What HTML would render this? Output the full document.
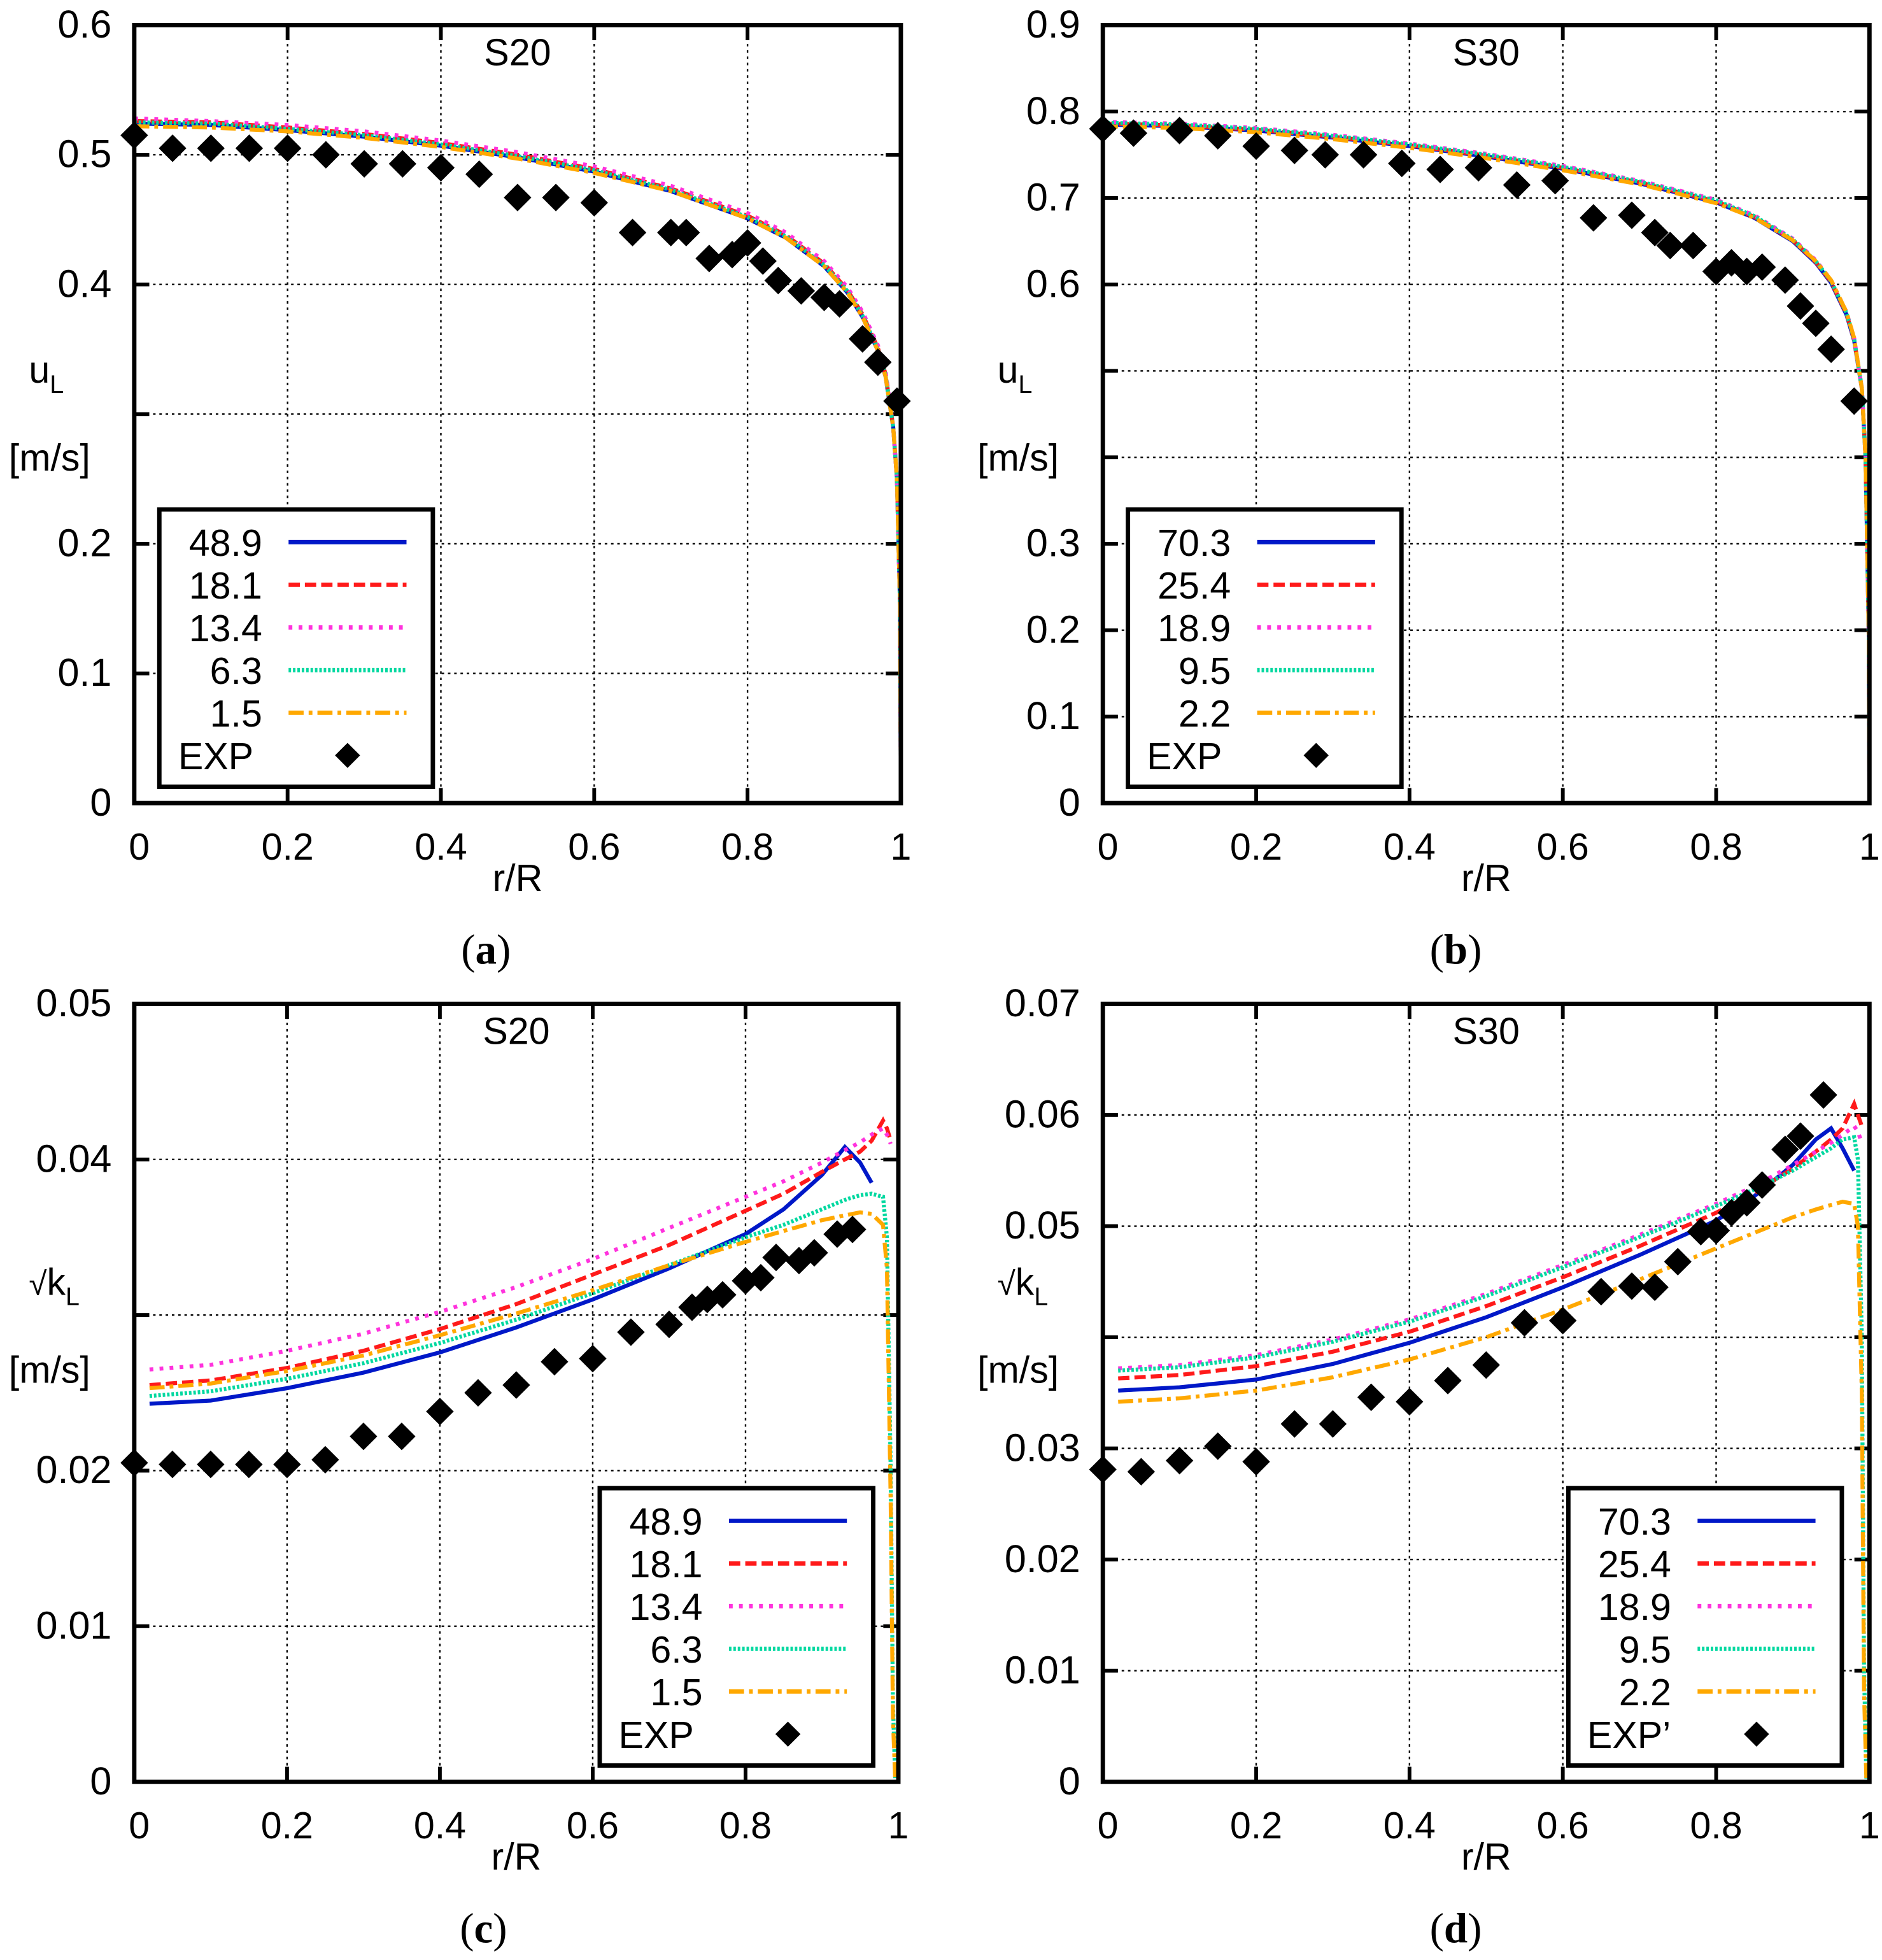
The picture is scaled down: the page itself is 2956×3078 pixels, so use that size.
<!DOCTYPE html>
<html><head><meta charset="utf-8">
<style>
html,body{margin:0;padding:0;background:#fff;}
svg{display:block;}
text{font-family:"Liberation Sans",sans-serif;fill:#000;}
</style></head>
<body>
<svg id="fig" width="2956" height="3078" viewBox="0 0 1500 1562" preserveAspectRatio="none" xmlns="http://www.w3.org/2000/svg"></svg>
<script>
// ---------- data ----------
const rSim = [0,0.1,0.2,0.3,0.4,0.5,0.6,0.7,0.8,0.85,0.9,0.93,0.95,0.97,0.98,0.99,0.995,0.999,1];
const aNames = ["48.9","18.1","13.4","6.3","1.5"];
const a1 = [0.524,0.523,0.519,0.514,0.507,0.498,0.487,0.472,0.451,0.436,0.414,0.394,0.375,0.349,0.329,0.29,0.25,0.15,0];
const a2 = [0.526,0.525,0.521,0.516,0.509,0.500,0.489,0.474,0.453,0.438,0.416,0.396,0.377,0.351,0.331,0.29,0.25,0.15,0];
const a3 = [0.528,0.526,0.523,0.518,0.511,0.502,0.491,0.476,0.455,0.440,0.418,0.398,0.379,0.353,0.333,0.29,0.25,0.15,0];
const a4 = [0.525,0.524,0.520,0.515,0.508,0.499,0.488,0.473,0.452,0.437,0.415,0.395,0.376,0.350,0.330,0.29,0.25,0.15,0];
const a5 = [0.522,0.521,0.518,0.513,0.506,0.497,0.486,0.472,0.451,0.436,0.414,0.394,0.375,0.349,0.329,0.29,0.25,0.15,0];
const aExpR = [0,0.05,0.1,0.15,0.2,0.25,0.3,0.35,0.4,0.45,0.5,0.55,0.6,0.65,0.7,0.72,0.75,0.78,0.8,0.82,0.84,0.87,0.9,0.92,0.95,0.97,0.995];
const aExpV = [0.515,0.505,0.505,0.505,0.505,0.5,0.493,0.493,0.49,0.485,0.467,0.467,0.463,0.44,0.44,0.44,0.42,0.423,0.432,0.418,0.403,0.395,0.39,0.385,0.358,0.34,0.31];

const bNames = ["70.3","25.4","18.9","9.5","2.2"];
const b1 = [0.785,0.783,0.778,0.770,0.760,0.748,0.734,0.717,0.695,0.677,0.650,0.625,0.602,0.565,0.535,0.48,0.40,0.2,0];
const b2 = [0.786,0.784,0.779,0.771,0.761,0.749,0.735,0.718,0.696,0.678,0.651,0.626,0.603,0.566,0.536,0.48,0.40,0.2,0];
const b3 = [0.788,0.786,0.781,0.773,0.763,0.751,0.737,0.720,0.698,0.680,0.653,0.628,0.605,0.568,0.538,0.48,0.40,0.2,0];
const b4 = [0.787,0.785,0.780,0.772,0.762,0.750,0.736,0.719,0.697,0.679,0.652,0.627,0.604,0.567,0.537,0.48,0.40,0.2,0];
const b5 = [0.783,0.781,0.776,0.768,0.758,0.746,0.732,0.716,0.694,0.677,0.651,0.627,0.605,0.568,0.538,0.48,0.40,0.2,0];
const bExpR = [0,0.04,0.1,0.15,0.2,0.25,0.29,0.34,0.39,0.44,0.49,0.54,0.59,0.64,0.69,0.72,0.74,0.77,0.8,0.82,0.84,0.86,0.89,0.91,0.93,0.95,0.98];
const bExpV = [0.78,0.775,0.778,0.772,0.76,0.755,0.75,0.75,0.74,0.733,0.735,0.715,0.72,0.677,0.68,0.66,0.645,0.645,0.615,0.625,0.615,0.62,0.605,0.575,0.555,0.525,0.465];

const rK = [0.02,0.1,0.2,0.3,0.4,0.5,0.6,0.7,0.8,0.85,0.9,0.93,0.95,0.965,0.98,0.985,0.99,0.993,0.996];
const c1 = [0.0243,0.0245,0.0253,0.0263,0.0276,0.0292,0.0310,0.0330,0.0352,0.0368,0.0390,0.0408,0.0398,0.0385,null,null,null,null,null];
const c2 = [0.0255,0.0258,0.0266,0.0277,0.0291,0.0307,0.0326,0.0345,0.0367,0.0378,0.0392,0.0400,0.0405,0.0412,0.0425,0.0420,0.0412,null,null];
const c3 = [0.0265,0.0268,0.0277,0.0288,0.0302,0.0318,0.0336,0.0356,0.0376,0.0386,0.0398,0.0406,0.0411,0.0416,0.0420,0.0416,0.0410,null,null];
const c4 = [0.0248,0.0251,0.0259,0.0269,0.0282,0.0297,0.0314,0.0332,0.0350,0.0358,0.0368,0.0374,0.0377,0.0378,0.0376,0.0350,0.0200,0.005,0];
const c5 = [0.0253,0.0256,0.0264,0.0274,0.0287,0.0301,0.0316,0.0332,0.0347,0.0354,0.0361,0.0364,0.0366,0.0365,0.0358,0.0330,0.0180,0.004,0];
const cExpR = [0,0.05,0.1,0.15,0.2,0.25,0.3,0.35,0.4,0.45,0.5,0.55,0.6,0.65,0.7,0.73,0.75,0.77,0.8,0.82,0.84,0.87,0.89,0.92,0.94];
const cExpV = [0.0205,0.0204,0.0204,0.0204,0.0204,0.0207,0.0222,0.0222,0.0238,0.025,0.0255,0.027,0.0272,0.0289,0.0294,0.0305,0.031,0.0313,0.0322,0.0324,0.0337,0.0335,0.034,0.0352,0.0355];

const d1 = [0.0352,0.0355,0.0362,0.0376,0.0395,0.0418,0.0445,0.0474,0.0505,0.0527,0.0555,0.0578,0.0588,0.0570,0.0550,null,null,null,null];
const d2 = [0.0363,0.0366,0.0374,0.0387,0.0405,0.0428,0.0454,0.0482,0.0512,0.0530,0.0552,0.0567,0.0578,0.0588,0.0610,0.0600,0.0590,null,null];
const d3 = [0.0372,0.0375,0.0384,0.0398,0.0416,0.0439,0.0465,0.0492,0.0520,0.0536,0.0555,0.0567,0.0575,0.0582,0.0590,0.0585,0.0575,null,null];
const d4 = [0.0370,0.0373,0.0382,0.0396,0.0414,0.0437,0.0463,0.0490,0.0518,0.0533,0.0550,0.0562,0.0570,0.0578,0.0580,0.0560,0.0400,0.010,0];
const d5 = [0.0342,0.0345,0.0352,0.0364,0.0380,0.0400,0.0425,0.0452,0.0480,0.0494,0.0508,0.0515,0.0519,0.0522,0.0520,0.0500,0.0350,0.008,0];
const dExpR = [0,0.05,0.1,0.15,0.2,0.25,0.3,0.35,0.4,0.45,0.5,0.55,0.6,0.65,0.69,0.72,0.75,0.78,0.8,0.82,0.84,0.86,0.89,0.91,0.94];
const dExpV = [0.0281,0.0279,0.0289,0.0302,0.0288,0.0322,0.0322,0.0346,0.0342,0.0361,0.0375,0.0413,0.0415,0.0441,0.0446,0.0445,0.0468,0.0495,0.0496,0.0512,0.0521,0.0537,0.0569,0.0581,0.0618];

const xTicks = ["0","0.2","0.4","0.6","0.8","1"];
const styles = [
  {c:"#0018c8",d:""},{c:"#ff1a1a",d:"9,4"},{c:"#ff33dd",d:"3,5"},{c:"#00d8a0",d:"2,1.5"},{c:"#ffa800",d:"12,4,3,4"}
];

// ---------- drawing ----------
const NS="http://www.w3.org/2000/svg";
const svg=document.getElementById('fig');
function mk(tag,attrs,parent){const e=document.createElementNS(NS,tag);for(const k in attrs)e.setAttribute(k,attrs[k]);(parent||svg).appendChild(e);return e;}

function panel(p){
  const g=mk('g',{});
  
  
  const X=v=>p.x0+(p.x1-p.x0)*v;
  const Y=v=>p.y1-(p.y1-p.y0)*(v/p.ymax);
  for(let i=1;i<5;i++){const x=X(i*0.2);const l=mk('line',{x1:x,x2:x,y1:p.y0,y2:p.y1,stroke:'#000','stroke-width':1.2,'stroke-dasharray':'2,3'},g);
    }
  for(let i=1;i<p.nY;i++){const y=Y(i*p.step);const l=mk('line',{x1:p.x0,x2:p.x1,y1:y,y2:y,stroke:'#000','stroke-width':1.2,'stroke-dasharray':'2,3'},g);
    }
  for(let i=0;i<=5;i++){const x=X(i*0.2);
    mk('line',{x1:x,x2:x,y1:p.y1,y2:p.y1-12,stroke:'#000','stroke-width':3},g);
    mk('line',{x1:x,x2:x,y1:p.y0,y2:p.y0+12,stroke:'#000','stroke-width':3},g);
    const t=mk('text',{x:x+(i==0?4:0),y:p.y1+45,'font-size':30,'text-anchor':'middle'},g);t.textContent=xTicks[i];
    }
  for(let i=0;i<=p.nY;i++){const y=Y(i*p.step);
    mk('line',{x1:p.x0,x2:p.x0+12,y1:y,y2:y,stroke:'#000','stroke-width':3},g);
    mk('line',{x1:p.x1,x2:p.x1-12,y1:y,y2:y,stroke:'#000','stroke-width':3},g);
    if(p.skip.includes(i))continue;
    const t=mk('text',{x:p.x0-18,y:y+10,'font-size':31,'text-anchor':'end'},g);t.textContent=i==0?'0':(i*p.step).toFixed(p.dec);
    }
  p.series.forEach((s,k)=>{
    let pts=[];for(let i=0;i<p.simR.length;i++){const v=p.simV[k][i];if(v==null)continue;pts.push(X(p.simR[i]).toFixed(1)+','+Y(v).toFixed(1));}
    const pl=mk('polyline',{points:pts.join(' '),fill:'none',stroke:styles[k].c,'stroke-width':3.2,'stroke-dasharray':styles[k].d},g);
    
  });
  p.expR.forEach((r,i)=>{const cx=X(r),cy=Y(p.expV[i]);
    const d=mk('polygon',{points:`${cx},${cy-11} ${cx+11},${cy} ${cx},${cy+11} ${cx-11},${cy}`,fill:'#000'},g);
    });
  const f=mk('rect',{x:p.x0,y:p.y0,width:p.x1-p.x0,height:p.y1-p.y0,fill:'none',stroke:'#000','stroke-width':3.5},g);
  
  const tt=mk('text',{x:(p.x0+p.x1)/2,y:p.y0+32,'font-size':30,'text-anchor':'middle'},g);tt.textContent=p.title;
  
  const xl=mk('text',{x:(p.x0+p.x1)/2,y:p.y1+70,'font-size':30,'text-anchor':'middle'},g);xl.textContent='r/R';
  
  const yl=mk('text',{x:p.x0-84,y:p.ylY,'font-size':30},g);
  
  if(p.sqrt){const s1=mk('tspan',{'font-size':26},yl);s1.textContent='√';}
  const s2=mk('tspan',{},yl);s2.textContent=p.ylab;
  const s3=mk('tspan',{'font-size':20,dy:8},yl);s3.textContent='L';
  const un=mk('text',{x:p.x0-100,y:p.ylY+70,'font-size':30},g);un.textContent='[m/s]';
  
  const lx=p.lx,ly=p.ly;
  const lg=mk('g',{},g);
  mk('rect',{x:lx,y:ly,width:218,height:221,fill:'#fff',stroke:'#000','stroke-width':3.5},lg);
  p.series.forEach((s,k)=>{const y=ly+26+k*34;
    const t=mk('text',{x:lx+82,y:y+11,'font-size':30,'text-anchor':'end'},lg);t.textContent=s;
    
    const l=mk('line',{x1:lx+103,x2:lx+197,y1:y,y2:y,stroke:styles[k].c,'stroke-width':3.5,'stroke-dasharray':styles[k].d},lg);
    });
  const ey=ly+26+5*34;
  const et=mk('text',{x:lx+15,y:ey+11,'font-size':30},lg);et.textContent=p.expLab;
  
  const cx=lx+150;
  mk('polygon',{points:`${cx},${ey-10} ${cx+10},${ey} ${cx},${ey+10} ${cx-10},${ey}`,fill:'#000'},lg);
  const cap=mk('text',{x:(p.x0+p.x1)/2-45,y:p.y1+128,'font-size':34,style:'font-family:"Liberation Serif",serif'},g);
  
  const c1s=mk('tspan',{},cap);c1s.textContent='(';
  const c2s=mk('tspan',{'font-weight':'bold'},cap);c2s.textContent=p.cap;
  const c3s=mk('tspan',{},cap);c3s.textContent=')';
}

panel({id:'panel-a',x0:107,x1:718,y0:20,y1:640,ymax:0.6,step:0.1,nY:6,dec:1,skip:[3],title:'S20',ylab:'u',ylY:305,
  series:aNames,simR:rSim,simV:[a1,a2,a3,a4,a5],expR:aExpR,expV:aExpV,lx:127,ly:406,expLab:'EXP',cap:'a'});
panel({id:'panel-b',x0:879,x1:1490,y0:20,y1:640,ymax:0.9,step:0.1,nY:9,dec:1,skip:[4,5],title:'S30',ylab:'u',ylY:305,
  series:bNames,simR:rSim,simV:[b1,b2,b3,b4,b5],expR:bExpR,expV:bExpV,lx:899,ly:406,expLab:'EXP',cap:'b'});
panel({id:'panel-c',x0:107,x1:716,y0:800,y1:1420,ymax:0.05,step:0.01,nY:5,dec:2,skip:[3],title:'S20',ylab:'k',ylY:1032,sqrt:true,
  series:aNames,simR:rK,simV:[c1,c2,c3,c4,c5],expR:cExpR,expV:cExpV,lx:478,ly:1186,expLab:'EXP',cap:'c'});
panel({id:'panel-d',x0:879,x1:1490,y0:800,y1:1420,ymax:0.07,step:0.01,nY:7,dec:2,skip:[4],title:'S30',ylab:'k',ylY:1032,sqrt:true,
  series:bNames,simR:rK,simV:[d1,d2,d3,d4,d5],expR:dExpR,expV:dExpV,lx:1250,ly:1186,expLab:'EXP’',cap:'d'});
</script>
</body></html>
